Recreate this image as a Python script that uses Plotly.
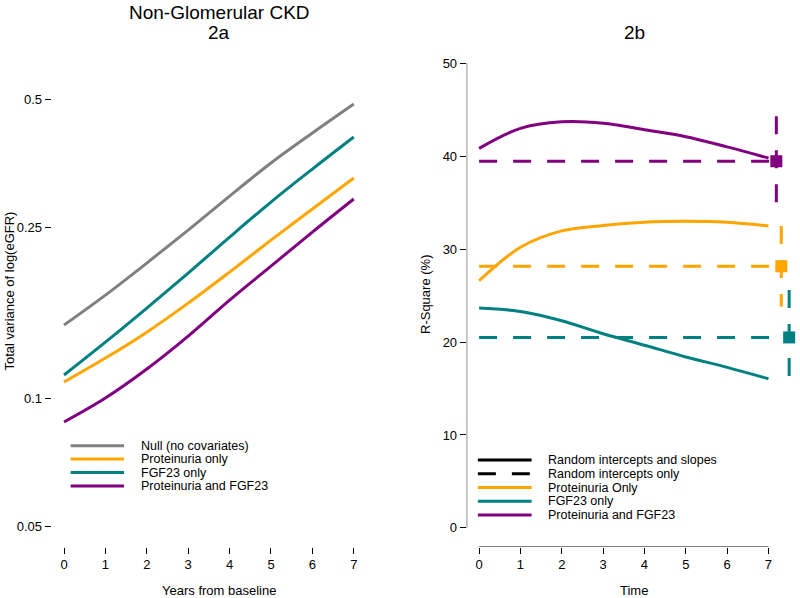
import numpy as np
import plotly.graph_objects as go

# ---------------- data ----------------
years = [0, 1, 2, 3, 4, 5, 6, 7]
var_null = [0.1481, 0.1740, 0.2068, 0.2470, 0.2966, 0.3543, 0.4164, 0.4867]
var_prot = [0.1090, 0.1240, 0.1426, 0.1667, 0.1970, 0.2340, 0.2766, 0.3268]
var_fgf = [0.1132, 0.1351, 0.1623, 0.1960, 0.2378, 0.2872, 0.3430, 0.4076]
var_both = [0.0879, 0.1000, 0.1169, 0.1396, 0.1694, 0.2034, 0.2443, 0.2919]
left_names = ["Null (no covariates)", "Proteinuria only", "FGF23 only", "Proteinuria and FGF23"]
left_y_ticks = [0.05, 0.1, 0.25, 0.5]
left_y_ticklabels = ["0.05", "0.1", "0.25", "0.5"]

time = [0, 1, 2, 3, 4, 5, 6, 7]
r2_prot = [26.6, 30.2, 31.96, 32.55, 32.9, 33.0, 32.9, 32.5]
r2_fgf = [23.66, 23.3, 22.3, 20.9, 19.66, 18.4, 17.28, 16.05]
r2_both = [40.84, 43.0, 43.7, 43.55, 42.85, 42.1, 41.0, 39.8]
ri_prot = 28.16
ri_fgf = 20.5
ri_both = 39.47
ri_prot_ci = [23.8, 32.5]
ri_fgf_ci = [15.8, 25.6]
ri_both_ci = [34.4, 44.3]
ri_xpos = {"prot": 7.31, "fgf": 7.5, "both": 7.19}
right_names = ["Random intercepts and slopes", "Random intercepts only",
               "Proteinuria Only", "FGF23 only", "Proteinuria and FGF23"]
x_ticks = [0, 1, 2, 3, 4, 5, 6, 7]
right_y_ticks = [0, 10, 20, 30, 40, 50]

# ---------------- style ----------------
GRAY, ORANGE, TEAL, PURPLE = "#808080", "#FFA500", "#008080", "#800080"
FONT = "Arial, Liberation Sans, sans-serif"
W, H = 800, 598
LW = 3
DASH = "18px,16px"

def py(px):  # pixel from top -> paper y
    return 1 - px / H

fig = go.Figure()

# left panel curves
for vals, col, nm in zip([var_null, var_prot, var_fgf, var_both],
                         [GRAY, ORANGE, TEAL, PURPLE], left_names):
    fig.add_trace(go.Scatter(x=years, y=vals, mode="lines", name=nm,
                             line=dict(color=col, width=LW, shape="spline"),
                             xaxis="x", yaxis="y", showlegend=False))

# right panel solid curves
for vals, col, nm in zip([r2_prot, r2_fgf, r2_both], [ORANGE, TEAL, PURPLE], right_names[2:]):
    fig.add_trace(go.Scatter(x=time, y=vals, mode="lines", name=nm,
                             line=dict(color=col, width=LW, shape="spline"),
                             xaxis="x2", yaxis="y2", showlegend=False))

# right panel random-intercept-only estimates
for key, val, ci, col in [("both", ri_both, ri_both_ci, PURPLE),
                          ("prot", ri_prot, ri_prot_ci, ORANGE),
                          ("fgf", ri_fgf, ri_fgf_ci, TEAL)]:
    xp = ri_xpos[key]
    fig.add_trace(go.Scatter(x=[0, xp], y=[val, val], mode="lines",
                             line=dict(color=col, width=LW, dash=DASH),
                             xaxis="x2", yaxis="y2", showlegend=False))
    fig.add_trace(go.Scatter(x=[xp, xp], y=[ci[1], ci[0]], mode="lines",
                             line=dict(color=col, width=LW, dash=DASH),
                             xaxis="x2", yaxis="y2", showlegend=False))
    fig.add_trace(go.Scatter(x=[xp], y=[val], mode="markers",
                             marker=dict(symbol="square", size=12, color=col),
                             xaxis="x2", yaxis="y2", showlegend=False))

# ---------------- axes ----------------
ydom = [py(546.5), py(44.7)]
tickfont = dict(family=FONT, size=13, color="black")
common = dict(showgrid=False, zeroline=False, showline=False, ticks="outside",
              ticklen=6, tickwidth=1, tickcolor="black", tickfont=tickfont,
              automargin=False)
fig.update_layout(
    width=W, height=H, margin=dict(l=0, r=0, t=0, b=0, autoexpand=False),
    plot_bgcolor="white", paper_bgcolor="white", showlegend=False,
    xaxis=dict(domain=[51.6 / W, 386.9 / W], range=[-0.3, 7.8], anchor="y",
               tickvals=x_ticks, **common),
    yaxis=dict(domain=ydom, type="log", range=[-1.347, -0.174], anchor="x",
               tickvals=left_y_ticks, ticktext=left_y_ticklabels, **common),
    xaxis2=dict(domain=[466.7 / W, 1.0], range=[-0.3, -0.3 + (W - 466.7) / 41.34],
                anchor="y2", tickvals=x_ticks, **common),
    yaxis2=dict(domain=ydom, range=[-2, 52], anchor="x2",
                tickvals=right_y_ticks, **common),
)

shapes = []
# axis lines spanning first to last tick (R style)
shapes.append(dict(type="line", xref="x", yref="y", x0=x_ticks[0], x1=x_ticks[-1],
                   y0=-1.347, y1=-1.347, line=dict(color="black", width=1)))
shapes.append(dict(type="line", xref="x", yref="y", x0=-0.3, x1=-0.3,
                   y0=float(np.log10(left_y_ticks[0])), y1=float(np.log10(left_y_ticks[-1])),
                   line=dict(color="black", width=1)))
shapes.append(dict(type="line", xref="x2", yref="y2", x0=x_ticks[0], x1=x_ticks[-1],
                   y0=-2, y1=-2, line=dict(color="black", width=1)))
shapes.append(dict(type="line", xref="x2", yref="y2", x0=-0.3, x1=-0.3,
                   y0=right_y_ticks[0], y1=right_y_ticks[-1], line=dict(color="black", width=1)))

annotations = []
txt = dict(family=FONT, size=13, color="black")
legtxt = dict(family=FONT, size=12.5, color="black")
# manual legends
left_cols = [GRAY, ORANGE, TEAL, PURPLE]
for i, (nm, col) in enumerate(zip(left_names, left_cols)):
    yy = py(445.7 + i * 13.4)
    shapes.append(dict(type="line", xref="x", yref="paper", x0=0.16, x1=1.45, y0=yy, y1=yy,
                       line=dict(color=col, width=LW)))
    annotations.append(dict(text=nm, xref="x", yref="paper", x=1.82, y=yy, xanchor="left",
                            yanchor="middle", showarrow=False, font=legtxt))
right_cols = ["black", "black", ORANGE, TEAL, PURPLE]
right_dash = ["solid", DASH, "solid", "solid", "solid"]
for i, (nm, col, ds) in enumerate(zip(right_names, right_cols, right_dash)):
    yy = py(460 + i * 13.75)
    shapes.append(dict(type="line", xref="x2", yref="paper", x0=-0.03, x1=1.27, y0=yy, y1=yy,
                       line=dict(color=col, width=LW, dash=ds)))
    annotations.append(dict(text=nm, xref="x2", yref="paper", x=1.63, y=yy, xanchor="left",
                            yanchor="middle", showarrow=False, font=legtxt))

# titles
tfont = dict(family=FONT, size=19, color="black")
annotations += [
    dict(text="Non-Glomerular CKD", xref="paper", yref="paper", x=219.2 / W, y=py(12.7),
         xanchor="center", yanchor="middle", showarrow=False, font=tfont),
    dict(text="2a", xref="paper", yref="paper", x=219.2 / W, y=py(32.8),
         xanchor="center", yanchor="middle", showarrow=False, font=tfont),
    dict(text="2b", xref="paper", yref="paper", x=634.2 / W, y=py(32.3),
         xanchor="center", yanchor="middle", showarrow=False, font=tfont),
    dict(text="Years from baseline", xref="paper", yref="paper", x=219.2 / W, y=py(590.5),
         xanchor="center", yanchor="middle", showarrow=False, font=txt),
    dict(text="Time", xref="paper", yref="paper", x=634.2 / W, y=py(590.5),
         xanchor="center", yanchor="middle", showarrow=False, font=txt),
    dict(text="Total variance of log(eGFR)", xref="paper", yref="paper", x=8.5 / W, y=py(291),
         xanchor="center", yanchor="middle", textangle=-90, showarrow=False, font=txt),
    dict(text="R-Square (%)", xref="paper", yref="paper", x=425 / W, y=py(295),
         xanchor="center", yanchor="middle", textangle=-90, showarrow=False, font=txt),
]

fig.update_layout(shapes=shapes, annotations=annotations)
fig.write_html("out.html", config={"displayModeBar": False},
               post_script="document.body.style.margin='0';document.body.style.overflow='hidden';")
